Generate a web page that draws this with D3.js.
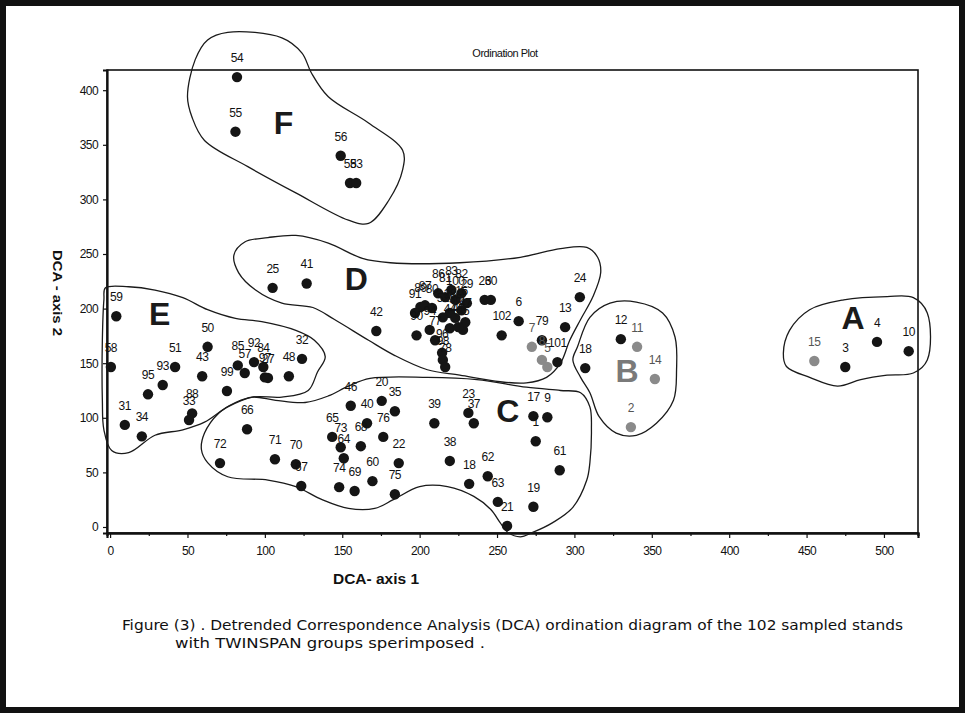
<!DOCTYPE html>
<html><head><meta charset="utf-8">
<script src="https://cdn.jsdelivr.net/npm/d3@7"></script>
<style>body{margin:0;background:#fff}svg{display:block}</style>
</head><body>
<svg id="chart" width="965" height="713"></svg>
<script>
// ---------------- data ----------------
const xTickValues = [0, 50, 100, 150, 200, 250, 300, 350, 400, 450, 500];
const yTickValues = [0, 50, 100, 150, 200, 250, 300, 350, 400];

// stand number, DCA axis 1, DCA axis 2
const standIds = [
  "54","55","56","58","53",
  "59","58","51","93","95","31","34","88","33","50","43","99","85","57","92","84","97","27","48","32",
  "25","41","42","26","30","6","102","79","7","8","5","101","13","24","18",
  "90","89","91","87","80","94","77","96","98","78","86","81","83","100","82","16","29","28","36","44","45","47","49","52",
  "66","72","71","70","67","65","73","64","74","69","46","20","35","40","68","76","22","60","75",
  "39","23","37","38","18","62","63","21","17","9","1","61","19",
  "12","11","14","2",
  "15","3","4","10"
];
const axis1 = [
  82, 81, 149, 155, 159,
  4, 0.5, 42, 34, 24.5, 9.5, 20.5, 53, 51, 63, 59.5, 75.5, 82.5, 87, 93, 99, 100, 102, 115.5, 124,
  105, 127, 172, 242, 246, 264, 253, 279, 272.5, 279, 282.5, 289, 294, 303.5, 307,
  198, 200.5, 197, 203.5, 208, 206.5, 210, 214.5, 215, 216.5, 212, 216.5, 220.5, 223, 227, 227, 230.5, 219.5, 223, 219.5, 228, 229.5, 225, 215,
  88.5, 71, 106.5, 120, 123.5, 143.5, 149, 151, 148, 158, 155.5, 175.5, 184, 166, 162, 176.5, 186.5, 169.5, 184,
  209.5, 231.5, 235, 219.5, 232, 244, 250.5, 256.5, 273.5, 282.5, 275, 290.5, 273.5,
  330, 340.5, 352, 336.5,
  455, 475, 495.5, 516
];
const axis2 = [
  412, 362, 340, 315, 315,
  193, 146.5, 146.5, 130, 121.5, 93.5, 83, 104, 98, 165, 138, 124.5, 148, 141, 151, 146.5, 137, 136.5, 138, 154,
  219, 223, 179.5, 208, 208, 188.5, 175.5, 171, 165, 153, 146.5, 151, 183, 210.5, 145.5,
  175.5, 201.5, 196, 203, 200.5, 180.5, 171, 159.5, 153, 146.5, 214, 210.5, 217, 208, 214, 198.5, 205, 196, 191.5, 182, 180.5, 187.5, 183, 192,
  89.5, 58.5, 62, 57.5, 37.5, 82.5, 73, 63, 36.5, 33, 111, 115.5, 106, 95, 74, 82.5, 58.5, 42, 30,
  95, 104.5, 95, 60.5, 39.5, 46.5, 23, 1, 101.5, 100.5, 78.5, 52, 18.5,
  172, 165, 135.5, 91.5,
  152, 146.5, 169.5, 161
];
const standShade = standIds.map(() => "dark");
const lightStands = [33, 34, 35, 97, 98, 99, 100, 104]; // indexes of grey-drawn stands
lightStands.forEach(i => standShade[i] = "light");

// TWINSPAN group outlines (DCA units)
const hullA = [[435,159],[439,180],[452,199],[474,208],[502,211],[519,210],[528,196],[528,153],[519,141],[502,139],[485,135],[470,129],[452,137],[437,147]];
const hullB = [[302,165],[310,192],[323,205],[340,206],[357,196],[365,174],[366,144],[364,116],[353,95],[340,84],[327,86],[316,101],[310,123],[304,137],[299,153]];
const hullC = [[70,104],[81,114],[92,119],[107,116],[126,114],[141,120],[154,129],[168,136],[205,137],[237,135],[269,128],[291,125],[304,123],[310,110],[311,89],[310,59],[308,43],[299,18],[286,4],[273,-5],[265,-9],[257,-5],[252,4],[246,16],[235,28],[218,37],[200,37],[183,25],[171,17],[154,17],[137,25],[120,37],[102,43],[76,46],[63,59],[59,71],[61,86]];
const hullD = [[80,249],[87,261],[102,265],[120,267],[141,260],[163,246],[181,242],[226,242],[265,247],[291,255],[308,256],[315,247],[317,233],[312,211],[304,190],[297,171],[291,150],[282,137],[269,132],[252,133],[226,139],[205,144],[184,157],[167,171],[145,190],[131,201],[111,205],[94,217],[83,233]];
const hullE = [[-3,219],[12,220],[29,217],[47,210],[63,199],[81,191],[98,188],[120,180],[132,171],[139,156],[134,142],[128,125],[111,119],[92,119],[76,110],[61,96],[47,89],[29,84],[12,68],[1,70],[-4,89],[-5,116],[-5,171],[-4,208]];
const hullF = [[76,453],[111,448],[124,434],[130,416],[141,394],[167,370],[189,345],[189,327],[180,299],[167,278],[154,281],[120,306],[89,330],[61,354],[53,375],[50,394],[55,428],[63,446]];
const groupNames = ["A","B","C","D","E","F"];
const groupAxis1 = [480, 334, 257, 159, 32, 112];
const groupAxis2 = [192, 144, 107, 228, 196, 371];

const titleText = "Ordination Plot";
const xTitle = "DCA- axis 1";
const yTitle = "DCA - axis 2";
const captionLines = [
  "Figure (3) . Detrended Correspondence Analysis (DCA) ordination diagram of the 102 sampled stands",
  "with TWINSPAN groups sperimposed ."
];

// ---------------- layout ----------------
const W = 965, H = 713;
const plot = {left: 107, right: 918, top: 70, bottom: 533};
const svg = d3.select("#chart");
const x = d3.scaleLinear().domain([-2, 522]).range([plot.left, plot.right]);
const y = d3.scaleLinear().domain([-5.5, 418.5]).range([plot.bottom, plot.top]);

svg.append("rect").attr("width", W).attr("height", H).attr("fill", "#fff");
// scan frame
svg.append("rect").attr("x", 3).attr("y", 3).attr("width", W - 6).attr("height", H - 6)
  .attr("fill", "none").attr("stroke", "#111").attr("stroke-width", 6);

// plot frame
svg.append("rect").attr("x", plot.left).attr("y", plot.top)
  .attr("width", plot.right - plot.left).attr("height", plot.bottom - plot.top)
  .attr("fill", "none").attr("stroke", "#111").attr("stroke-width", 1.6);

const tickFont = "'Liberation Sans', Arial, sans-serif";
// axes
const xAxis = svg.append("g").attr("transform", `translate(0,${plot.bottom})`)
  .call(d3.axisBottom(x).tickValues(xTickValues).tickSize(5).tickPadding(8).tickFormat(d3.format("d")));
const xMinor = svg.append("g").attr("transform", `translate(0,${plot.bottom})`)
  .call(d3.axisBottom(x).tickValues(d3.range(25, 520, 50)).tickSize(3).tickFormat(""));
const yAxis = svg.append("g").attr("transform", `translate(${plot.left},0)`)
  .call(d3.axisLeft(y).tickValues(yTickValues).tickSize(4).tickPadding(5).tickFormat(d3.format("d")));
[xAxis, xMinor, yAxis].forEach(g => {
  g.select(".domain").attr("stroke", "#111").attr("stroke-width", 2.2);
  g.selectAll(".tick line").attr("stroke", "#111").attr("stroke-width", 1.2);
  g.selectAll("text").attr("font-family", tickFont).attr("font-size", 12)
    .attr("fill", "#111").attr("letter-spacing", "-0.6px");
});

// hulls
const hullLine = d3.line().x(d => x(d[0])).y(d => y(d[1])).curve(d3.curveCatmullRomClosed.alpha(0.5));
[hullA, hullB, hullC, hullD, hullE, hullF].forEach(h => {
  svg.append("path").attr("d", hullLine(h)).attr("fill", "none")
    .attr("stroke", "#1a1a1a").attr("stroke-width", 1.3);
});

// points
const stands = standIds.map((id, i) => ({id, a1: axis1[i], a2: axis2[i], shade: standShade[i]}));
const shadeColor = {dark: "#151515", light: "#8a8a8a"};
svg.append("g").selectAll("circle").data(stands).join("circle")
  .attr("cx", d => x(d.a1)).attr("cy", d => y(d.a2)).attr("r", 5.2)
  .attr("fill", d => shadeColor[d.shade]);
svg.append("g").selectAll("text").data(stands).join("text")
  .attr("x", d => x(d.a1)).attr("y", d => y(d.a2) - 15)
  .attr("text-anchor", "middle").attr("font-family", tickFont).attr("font-size", 12)
  .attr("letter-spacing", "-0.5px")
  .attr("fill", d => d.shade === "light" ? "#555" : "#111")
  .text(d => d.id);

// group letters
svg.append("g").selectAll("text").data(groupNames).join("text")
  .attr("x", (d, i) => x(groupAxis1[i])).attr("y", (d, i) => y(groupAxis2[i]) + 12)
  .attr("text-anchor", "middle").attr("font-family", "'Liberation Sans', Arial, sans-serif")
  .attr("font-weight", "bold").attr("font-size", 32)
  .attr("fill", d => d === "B" ? "#7a7a7a" : "#1a1a1a")
  .text(d => d);

// titles
svg.append("text").attr("x", 505).attr("y", 57).attr("text-anchor", "middle")
  .attr("font-family", tickFont).attr("font-size", 11).attr("letter-spacing", "-0.5px")
  .attr("fill", "#111").text(titleText);
svg.append("text").attr("x", 333).attr("y", 584)
  .attr("font-family", tickFont).attr("font-weight", "bold").attr("font-size", 14)
  .attr("textLength", 86).attr("lengthAdjust", "spacingAndGlyphs")
  .attr("fill", "#111").text(xTitle);
svg.append("text").attr("transform", "translate(53,250) rotate(90)")
  .attr("font-family", tickFont).attr("font-weight", "bold").attr("font-size", 12)
  .attr("textLength", 86).attr("lengthAdjust", "spacingAndGlyphs")
  .attr("fill", "#111").text(yTitle);

// caption
const capFont = "'DejaVu Sans Condensed', 'DejaVu Sans', Verdana, sans-serif";
svg.append("text").attr("x", 122).attr("y", 630)
  .attr("font-family", capFont).attr("font-size", 14).attr("font-stretch", "condensed")
  .attr("textLength", 781).attr("lengthAdjust", "spacingAndGlyphs")
  .attr("fill", "#111").text(captionLines[0]);
svg.append("text").attr("x", 175).attr("y", 648)
  .attr("font-family", capFont).attr("font-size", 14).attr("font-stretch", "condensed")
  .attr("textLength", 310).attr("lengthAdjust", "spacingAndGlyphs")
  .attr("fill", "#111").text(captionLines[1]);
</script>
</body></html>
